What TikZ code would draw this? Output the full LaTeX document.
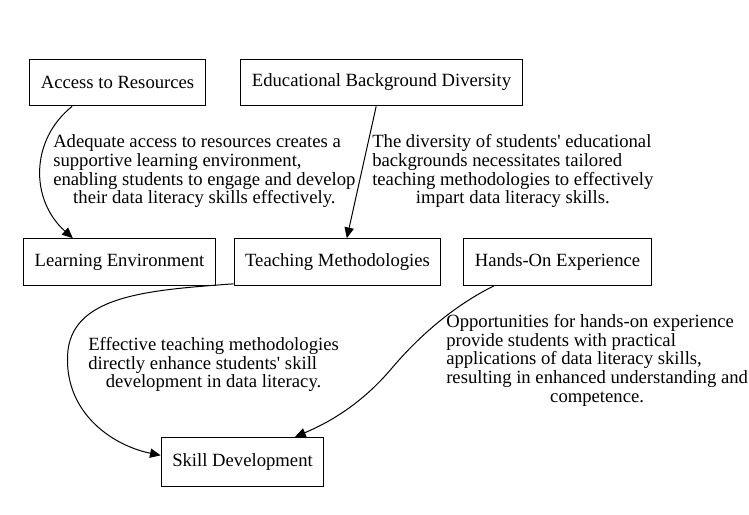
\documentclass[tikz,border=0pt]{standalone}
\usepackage{fontspec}
\setmainfont{Liberation Serif}
\usetikzlibrary{arrows.meta}
\newcommand{\lastrow}[1]{\multicolumn{1}{@{}c@{}}{#1}}

\begin{document}
\begin{tikzpicture}[
    x=0.75pt, y=-0.75pt,
    box/.style={draw, line width=0.75pt, minimum height=35pt, inner xsep=8.3pt,
                font=\fontsize{14}{14}\selectfont},
    note/.style={anchor=north west, inner sep=0pt, font=\fontsize{14}{14}\selectfont},
    arrow/.style={-{Triangle[length=8pt,width=7pt]}, line width=0.75pt}
]
\useasboundingbox (0,0) rectangle (749,514);

\node[box] (access) at (117.5,82.5) {Access to Resources};
\node[box] (edu) at (381.5,82.5) {Educational Background Diversity};
\node[box] (learn) at (119.5,262) {Learning Environment};
\node[box] (teach) at (337.5,262) {Teaching Methodologies};
\node[box] (hands) at (557.5,262) {Hands-On Experience};
\node[box, minimum height=37pt] (skill) at (242.5,462) {Skill Development};

\node[note] (noteaccess) at (53,134.5) {\begin{tabular}{@{}l@{}}
    Adequate access to resources creates a\\
    supportive learning environment,\\
    enabling students to engage and develop\\
    \lastrow{their data literacy skills effectively.}\end{tabular}};
\node[note] (noteedu) at (372,134.5) {\begin{tabular}{@{}l@{}}
    The diversity of students\textquotesingle{} educational\\
    backgrounds necessitates tailored\\
    teaching methodologies to effectively\\
    \lastrow{impart data literacy skills.}\end{tabular}};
\node[note] (noteteach) at (88,337) {\begin{tabular}{@{}l@{}}
    Effective teaching methodologies\\
    directly enhance students\textquotesingle{} skill\\
    \lastrow{development in data literacy.}\end{tabular}};
\node[note] (notehands) at (446,314) {\begin{tabular}{@{}l@{}}
    Opportunities for hands-on experience\\
    provide students with practical\\
    applications of data literacy skills,\\
    resulting in enhanced understanding and\\
    \lastrow{competence.}\end{tabular}};

\coordinate (bendteach) at (68,350);
\coordinate (bendhands) at (392,368);

\draw[arrow] ([xshift=-34pt]access.south) .. controls (30,140) and (30,200) .. ([xshift=-35pt]learn.north);
\draw[arrow] ([xshift=-4pt]edu.south) -- ([xshift=7pt]teach.north);
\draw[arrow] ([yshift=1.5pt]teach.south west) .. controls (150,290) and (75,295) .. (bendteach)
    .. controls (62,410) and (110,445) .. ([yshift=5pt]skill.west);
\draw[arrow] ([xshift=-47.6pt]hands.south) .. controls (455,305) and (420,335) .. (bendhands)
    .. controls (365,400) and (335,420) .. ([xshift=39.4pt]skill.north);
\end{tikzpicture}
\end{document}
